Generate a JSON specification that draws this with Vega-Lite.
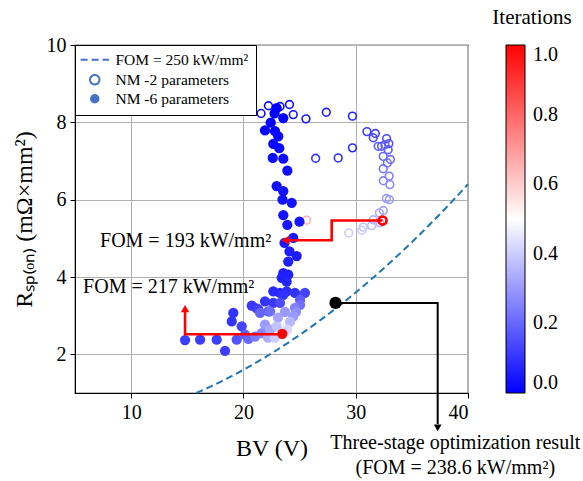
{
  "$schema": "https://vega.github.io/schema/vega-lite/v6.json",
  "width": 393,
  "height": 348,
  "autosize": {"type": "none"},
  "padding": {"left": 75, "top": 45, "right": 115, "bottom": 88},
  "config": {
    "font": "Liberation Serif",
    "view": {"stroke": "black", "strokeWidth": 1.2},
    "axis": {
      "labelFont": "Liberation Serif", "labelFontSize": 20, "labelColor": "black",
      "titleFont": "Liberation Serif", "titleFontSize": 24, "titleFontWeight": "normal", "titleColor": "black",
      "domainColor": "black", "tickColor": "black", "tickSize": 5, "gridColor": "#b0b0b0", "gridWidth": 1
    }
  },
  "datasets": {
    "fom": [
      {"bv": 15.81, "r": 1.0}, {"bv": 17, "r": 1.156}, {"bv": 18, "r": 1.296}, {"bv": 19, "r": 1.444},
      {"bv": 20, "r": 1.6}, {"bv": 21, "r": 1.764}, {"bv": 22, "r": 1.936}, {"bv": 23, "r": 2.116},
      {"bv": 24, "r": 2.304}, {"bv": 25, "r": 2.5}, {"bv": 26, "r": 2.704}, {"bv": 27, "r": 2.916},
      {"bv": 28, "r": 3.136}, {"bv": 29, "r": 3.364}, {"bv": 30, "r": 3.6}, {"bv": 31, "r": 3.844},
      {"bv": 32, "r": 4.096}, {"bv": 33, "r": 4.356}, {"bv": 34, "r": 4.624}, {"bv": 35, "r": 4.9},
      {"bv": 36, "r": 5.184}, {"bv": 37, "r": 5.476}, {"bv": 38, "r": 5.776}, {"bv": 39, "r": 6.084},
      {"bv": 40, "r": 6.4}
    ],
    "nm2": [
      {"bv": 21.57, "r": 8.23, "it": 0.02, "series": "NM -2 parameters"},
      {"bv": 22.23, "r": 8.43, "it": 0.02, "series": "NM -2 parameters"},
      {"bv": 23.26, "r": 8.41, "it": 0.03, "series": "NM -2 parameters"},
      {"bv": 24.10, "r": 8.46, "it": 0.03, "series": "NM -2 parameters"},
      {"bv": 24.44, "r": 8.20, "it": 0.04, "series": "NM -2 parameters"},
      {"bv": 25.57, "r": 8.09, "it": 0.05, "series": "NM -2 parameters"},
      {"bv": 27.38, "r": 8.26, "it": 0.06, "series": "NM -2 parameters"},
      {"bv": 29.71, "r": 8.16, "it": 0.07, "series": "NM -2 parameters"},
      {"bv": 29.71, "r": 7.34, "it": 0.08, "series": "NM -2 parameters"},
      {"bv": 28.44, "r": 7.08, "it": 0.09, "series": "NM -2 parameters"},
      {"bv": 26.43, "r": 7.07, "it": 0.10, "series": "NM -2 parameters"},
      {"bv": 31.00, "r": 7.76, "it": 0.12, "series": "NM -2 parameters"},
      {"bv": 31.75, "r": 7.71, "it": 0.13, "series": "NM -2 parameters"},
      {"bv": 31.56, "r": 7.60, "it": 0.14, "series": "NM -2 parameters"},
      {"bv": 32.75, "r": 7.58, "it": 0.15, "series": "NM -2 parameters"},
      {"bv": 32.95, "r": 7.45, "it": 0.16, "series": "NM -2 parameters"},
      {"bv": 32.30, "r": 7.38, "it": 0.17, "series": "NM -2 parameters"},
      {"bv": 32.89, "r": 7.29, "it": 0.18, "series": "NM -2 parameters"},
      {"bv": 32.00, "r": 7.38, "it": 0.18, "series": "NM -2 parameters"},
      {"bv": 32.60, "r": 7.42, "it": 0.19, "series": "NM -2 parameters"},
      {"bv": 32.45, "r": 7.12, "it": 0.20, "series": "NM -2 parameters"},
      {"bv": 33.09, "r": 7.04, "it": 0.21, "series": "NM -2 parameters"},
      {"bv": 32.82, "r": 6.95, "it": 0.22, "series": "NM -2 parameters"},
      {"bv": 32.45, "r": 6.80, "it": 0.23, "series": "NM -2 parameters"},
      {"bv": 32.98, "r": 6.61, "it": 0.25, "series": "NM -2 parameters"},
      {"bv": 32.46, "r": 6.49, "it": 0.26, "series": "NM -2 parameters"},
      {"bv": 33.04, "r": 6.39, "it": 0.27, "series": "NM -2 parameters"},
      {"bv": 32.73, "r": 6.03, "it": 0.30, "series": "NM -2 parameters"},
      {"bv": 33.00, "r": 6.00, "it": 0.30, "series": "NM -2 parameters"},
      {"bv": 32.46, "r": 5.72, "it": 0.32, "series": "NM -2 parameters"},
      {"bv": 32.11, "r": 5.66, "it": 0.33, "series": "NM -2 parameters"},
      {"bv": 32.15, "r": 5.40, "it": 0.35, "series": "NM -2 parameters"},
      {"bv": 31.56, "r": 5.48, "it": 0.35, "series": "NM -2 parameters"},
      {"bv": 31.41, "r": 5.33, "it": 0.37, "series": "NM -2 parameters"},
      {"bv": 30.67, "r": 5.29, "it": 0.38, "series": "NM -2 parameters"},
      {"bv": 30.53, "r": 5.21, "it": 0.40, "series": "NM -2 parameters"},
      {"bv": 29.38, "r": 5.14, "it": 0.40, "series": "NM -2 parameters"},
      {"bv": 25.63, "r": 5.47, "it": 0.65, "series": "NM -2 parameters"},
      {"bv": 32.39, "r": 5.46, "it": 1.0, "series": "NM -2 parameters"}
    ],
    "nm6": [
      {"bv": 22.96, "r": 8.37, "it": 0.0, "series": "NM -6 parameters"},
      {"bv": 22.77, "r": 8.23, "it": 0.0, "series": "NM -6 parameters"},
      {"bv": 22.43, "r": 7.99, "it": 0.005, "series": "NM -6 parameters"},
      {"bv": 23.55, "r": 8.11, "it": 0.01, "series": "NM -6 parameters"},
      {"bv": 21.92, "r": 7.79, "it": 0.01, "series": "NM -6 parameters"},
      {"bv": 22.81, "r": 7.77, "it": 0.01, "series": "NM -6 parameters"},
      {"bv": 23.10, "r": 7.64, "it": 0.015, "series": "NM -6 parameters"},
      {"bv": 22.66, "r": 7.44, "it": 0.02, "series": "NM -6 parameters"},
      {"bv": 23.19, "r": 7.33, "it": 0.02, "series": "NM -6 parameters"},
      {"bv": 22.61, "r": 7.08, "it": 0.025, "series": "NM -6 parameters"},
      {"bv": 23.55, "r": 7.06, "it": 0.025, "series": "NM -6 parameters"},
      {"bv": 23.91, "r": 6.75, "it": 0.03, "series": "NM -6 parameters"},
      {"bv": 22.96, "r": 6.35, "it": 0.03, "series": "NM -6 parameters"},
      {"bv": 23.55, "r": 6.22, "it": 0.035, "series": "NM -6 parameters"},
      {"bv": 23.48, "r": 6.00, "it": 0.035, "series": "NM -6 parameters"},
      {"bv": 24.30, "r": 5.92, "it": 0.04, "series": "NM -6 parameters"},
      {"bv": 23.55, "r": 5.60, "it": 0.04, "series": "NM -6 parameters"},
      {"bv": 23.91, "r": 5.35, "it": 0.045, "series": "NM -6 parameters"},
      {"bv": 24.99, "r": 5.43, "it": 0.045, "series": "NM -6 parameters"},
      {"bv": 24.44, "r": 5.01, "it": 0.05, "series": "NM -6 parameters"},
      {"bv": 23.66, "r": 4.88, "it": 0.05, "series": "NM -6 parameters"},
      {"bv": 24.10, "r": 4.66, "it": 0.055, "series": "NM -6 parameters"},
      {"bv": 24.74, "r": 4.54, "it": 0.055, "series": "NM -6 parameters"},
      {"bv": 23.99, "r": 4.40, "it": 0.06, "series": "NM -6 parameters"},
      {"bv": 23.55, "r": 4.10, "it": 0.06, "series": "NM -6 parameters"},
      {"bv": 23.99, "r": 4.06, "it": 0.065, "series": "NM -6 parameters"},
      {"bv": 23.41, "r": 3.98, "it": 0.065, "series": "NM -6 parameters"},
      {"bv": 23.85, "r": 3.88, "it": 0.07, "series": "NM -6 parameters"},
      {"bv": 22.66, "r": 3.63, "it": 0.08, "series": "NM -6 parameters"},
      {"bv": 23.26, "r": 3.59, "it": 0.08, "series": "NM -6 parameters"},
      {"bv": 23.85, "r": 3.63, "it": 0.09, "series": "NM -6 parameters"},
      {"bv": 23.55, "r": 3.54, "it": 0.10, "series": "NM -6 parameters"},
      {"bv": 24.59, "r": 3.59, "it": 0.10, "series": "NM -6 parameters"},
      {"bv": 21.92, "r": 3.37, "it": 0.10, "series": "NM -6 parameters"},
      {"bv": 22.66, "r": 3.33, "it": 0.11, "series": "NM -6 parameters"},
      {"bv": 19.10, "r": 3.07, "it": 0.10, "series": "NM -6 parameters"},
      {"bv": 18.96, "r": 2.85, "it": 0.10, "series": "NM -6 parameters"},
      {"bv": 20.74, "r": 3.26, "it": 0.11, "series": "NM -6 parameters"},
      {"bv": 21.18, "r": 3.19, "it": 0.11, "series": "NM -6 parameters"},
      {"bv": 14.80, "r": 2.37, "it": 0.12, "series": "NM -6 parameters"},
      {"bv": 16.14, "r": 2.38, "it": 0.12, "series": "NM -6 parameters"},
      {"bv": 17.62, "r": 2.38, "it": 0.12, "series": "NM -6 parameters"},
      {"bv": 18.36, "r": 2.09, "it": 0.12, "series": "NM -6 parameters"},
      {"bv": 19.85, "r": 2.72, "it": 0.13, "series": "NM -6 parameters"},
      {"bv": 21.33, "r": 3.16, "it": 0.13, "series": "NM -6 parameters"},
      {"bv": 25.48, "r": 3.59, "it": 0.13, "series": "NM -6 parameters"},
      {"bv": 23.26, "r": 3.33, "it": 0.15, "series": "NM -6 parameters"},
      {"bv": 22.22, "r": 3.11, "it": 0.16, "series": "NM -6 parameters"},
      {"bv": 19.40, "r": 2.38, "it": 0.16, "series": "NM -6 parameters"},
      {"bv": 20.14, "r": 2.51, "it": 0.18, "series": "NM -6 parameters"},
      {"bv": 25.04, "r": 3.41, "it": 0.18, "series": "NM -6 parameters"},
      {"bv": 21.48, "r": 3.07, "it": 0.20, "series": "NM -6 parameters"},
      {"bv": 20.44, "r": 2.40, "it": 0.20, "series": "NM -6 parameters"},
      {"bv": 22.37, "r": 3.11, "it": 0.22, "series": "NM -6 parameters"},
      {"bv": 25.04, "r": 3.28, "it": 0.22, "series": "NM -6 parameters"},
      {"bv": 21.03, "r": 2.46, "it": 0.24, "series": "NM -6 parameters"},
      {"bv": 24.59, "r": 3.20, "it": 0.25, "series": "NM -6 parameters"},
      {"bv": 21.63, "r": 2.55, "it": 0.26, "series": "NM -6 parameters"},
      {"bv": 24.68, "r": 3.10, "it": 0.28, "series": "NM -6 parameters"},
      {"bv": 23.70, "r": 3.10, "it": 0.30, "series": "NM -6 parameters"},
      {"bv": 21.92, "r": 2.77, "it": 0.30, "series": "NM -6 parameters"},
      {"bv": 24.44, "r": 2.98, "it": 0.30, "series": "NM -6 parameters"},
      {"bv": 23.08, "r": 2.95, "it": 0.32, "series": "NM -6 parameters"},
      {"bv": 22.37, "r": 2.64, "it": 0.33, "series": "NM -6 parameters"},
      {"bv": 22.19, "r": 2.43, "it": 0.34, "series": "NM -6 parameters"},
      {"bv": 24.15, "r": 2.84, "it": 0.36, "series": "NM -6 parameters"},
      {"bv": 22.96, "r": 2.72, "it": 0.38, "series": "NM -6 parameters"},
      {"bv": 22.81, "r": 2.43, "it": 0.40, "series": "NM -6 parameters"},
      {"bv": 23.88, "r": 2.64, "it": 0.42, "series": "NM -6 parameters"},
      {"bv": 23.46, "r": 2.53, "it": 1.0, "series": "NM -6 parameters"}
    ],
    "redpath": [
      {"p": "a", "i": 0, "bv": 32.39, "r": 5.46},
      {"p": "a", "i": 1, "bv": 27.86, "r": 5.46},
      {"p": "a", "i": 2, "bv": 27.86, "r": 4.95},
      {"p": "a", "i": 3, "bv": 23.9, "r": 4.95},
      {"p": "b", "i": 0, "bv": 23.46, "r": 2.52},
      {"p": "b", "i": 1, "bv": 14.8, "r": 2.52},
      {"p": "b", "i": 2, "bv": 14.8, "r": 3.1}
    ],
    "blackpath": [
      {"i": 0, "bv": 28.2, "r": 3.33},
      {"i": 1, "bv": 37.3, "r": 3.33},
      {"i": 2, "bv": 37.3, "r": 0.2}
    ],
    "heads": [
      {"dir": "left", "bv": 23.72, "r": 4.95},
      {"dir": "up", "bv": 14.8, "r": 3.18},
      {"dir": "down", "bv": 37.3, "r": 0.1}
    ],
    "result": [{"bv": 28.2, "r": 3.33}],
    "notes": [
      {"bv": 14.85, "r": 4.93, "text": "FOM = 193 kW/mm²"},
      {"bv": 13.34, "r": 3.75, "text": "FOM = 217 kW/mm²"},
      {"bv": 38.87, "r": -0.29, "text": "Three-stage optimization result"},
      {"bv": 38.87, "r": -0.93, "text": "(FOM = 238.6 kW/mm²)"}
    ]
  },
  "layer": [
    {
      "data": {"name": "fom"},
      "mark": {"type": "line", "color": "#1f77b4", "strokeWidth": 2, "strokeDash": [7, 4]},
      "encoding": {
        "x": {"field": "bv", "type": "quantitative",
              "scale": {"domain": [5, 40], "nice": false, "zero": false},
              "axis": {"title": "BV (V)", "values": [10, 20, 30, 40], "titlePadding": 14, "labelPadding": 4}},
        "y": {"field": "r", "type": "quantitative",
              "scale": {"domain": [1, 10], "nice": false, "zero": false},
              "axis": {"title": "Rₛₚ₍ₒₙ₎ (mΩ×mm²)", "values": [2, 4, 6, 8, 10], "titlePadding": 10, "labelPadding": 4}}
      }
    },
    {
      "data": {"name": "nm2"},
      "mark": {"type": "point", "filled": false, "fill": null, "strokeWidth": 1.6, "size": 60, "opacity": 1},
      "encoding": {
        "x": {"field": "bv", "type": "quantitative"},
        "y": {"field": "r", "type": "quantitative"},
        "stroke": {"field": "it", "type": "quantitative",
                  "scale": {"domain": [0, 0.5, 1.000001], "range": ["#0000ff", "#ffffff", "#ff0000"], "interpolate": "rgb"},
                  "legend": null},
        "shape": {"field": "series", "type": "nominal",
                  "scale": {"domain": ["FOM = 250 kW/mm²", "NM -2 parameters", "NM -6 parameters"], "range": ["stroke", "circle", "circle"]},
                  "legend": {"title": null, "orient": "top-left", "offset": 0, "padding": 7, "symbolOffset": 5,
                             "strokeColor": "black", "fillColor": "white", "cornerRadius": 0,
                             "labelFont": "Liberation Serif", "labelFontSize": 15.5, "labelColor": "black", "labelOffset": 13,
                             "symbolSize": 100, "rowPadding": 2,
                             "encoding": {"symbols": {
                               "fill": {"value": {"expr": "datum.value === 'NM -6 parameters' ? '#4472c4' : 'transparent'"}},
                               "stroke": {"value": "#4472c4"},
                               "strokeWidth": {"value": {"expr": "datum.value === 'NM -6 parameters' ? 0 : 2"}},
                               "strokeDash": {"value": {"expr": "datum.value === 'NM -6 parameters' || datum.value === 'NM -2 parameters' ? [1, 0] : [7, 4]"}},
                               "size": {"value": {"expr": "datum.value === 'NM -6 parameters' || datum.value === 'NM -2 parameters' ? 90 : 800"}},
                               "opacity": {"value": 1}
                             }}}}
      }
    },
    {
      "data": {"name": "nm6"},
      "mark": {"type": "point", "filled": true, "size": 105, "strokeWidth": 0, "opacity": 1},
      "encoding": {
        "x": {"field": "bv", "type": "quantitative"},
        "y": {"field": "r", "type": "quantitative"},
        "fill": {"field": "it", "type": "quantitative",
                 "scale": {"domain": [0, 0.5, 1], "range": ["#0000ff", "#ffffff", "#ff0000"], "interpolate": "rgb"},
                 "legend": {"title": "Iterations", "orient": "none", "legendX": 417, "legendY": -38, "direction": "vertical",
                            "gradientLength": 348, "gradientThickness": 19, "values": [0, 0.2, 0.4, 0.6, 0.8, 1.0], "format": ".1f",
                            "labelFont": "Liberation Serif", "labelFontSize": 20, "labelColor": "black", "labelOffset": 8,
                            "titleFont": "Liberation Serif", "titleFontSize": 21, "titleFontWeight": "normal", "titleColor": "black",
                            "titleAnchor": "middle", "titleAlign": "center",
                            "titlePadding": 17, "gradientStrokeColor": "black", "gradientStrokeWidth": 1}},
        "shape": {"field": "series", "type": "nominal"}
      }
    },
    {
      "data": {"name": "nm2"},
      "transform": [{"filter": "datum.it >= 1"}],
      "mark": {"type": "point", "shape": "circle", "filled": false, "color": "#ff0000", "strokeWidth": 2.6, "size": 65, "opacity": 1},
      "encoding": {"x": {"field": "bv", "type": "quantitative"}, "y": {"field": "r", "type": "quantitative"}}
    },
    {
      "data": {"name": "redpath"},
      "mark": {"type": "line", "color": "#ff0000", "strokeWidth": 2.6},
      "encoding": {
        "x": {"field": "bv", "type": "quantitative"},
        "y": {"field": "r", "type": "quantitative"},
        "detail": {"field": "p"},
        "order": {"field": "i"}
      }
    },
    {
      "data": {"name": "heads"},
      "transform": [{"filter": "datum.dir === 'left'"}],
      "mark": {"type": "point", "shape": "triangle-left", "filled": true, "color": "#ff0000", "size": 80, "opacity": 1},
      "encoding": {"x": {"field": "bv", "type": "quantitative"}, "y": {"field": "r", "type": "quantitative"}}
    },
    {
      "data": {"name": "heads"},
      "transform": [{"filter": "datum.dir === 'up'"}],
      "mark": {"type": "point", "shape": "triangle-up", "filled": true, "color": "#ff0000", "size": 70, "opacity": 1},
      "encoding": {"x": {"field": "bv", "type": "quantitative"}, "y": {"field": "r", "type": "quantitative"}}
    },
    {
      "data": {"name": "blackpath"},
      "mark": {"type": "line", "color": "black", "strokeWidth": 2},
      "encoding": {
        "x": {"field": "bv", "type": "quantitative"},
        "y": {"field": "r", "type": "quantitative"},
        "order": {"field": "i"}
      }
    },
    {
      "data": {"name": "heads"},
      "transform": [{"filter": "datum.dir === 'down'"}],
      "mark": {"type": "point", "shape": "triangle-down", "filled": true, "color": "black", "size": 60, "opacity": 1},
      "encoding": {"x": {"field": "bv", "type": "quantitative"}, "y": {"field": "r", "type": "quantitative"}}
    },
    {
      "data": {"name": "result"},
      "mark": {"type": "point", "shape": "circle", "filled": true, "color": "black", "size": 150, "opacity": 1},
      "encoding": {"x": {"field": "bv", "type": "quantitative"}, "y": {"field": "r", "type": "quantitative"}}
    },
    {
      "data": {"name": "notes"},
      "mark": {"type": "text", "font": "Liberation Serif", "fontSize": 20, "color": "black", "align": "center", "baseline": "middle"},
      "encoding": {
        "x": {"field": "bv", "type": "quantitative"},
        "y": {"field": "r", "type": "quantitative"},
        "text": {"field": "text"}
      }
    }
  ]
}
